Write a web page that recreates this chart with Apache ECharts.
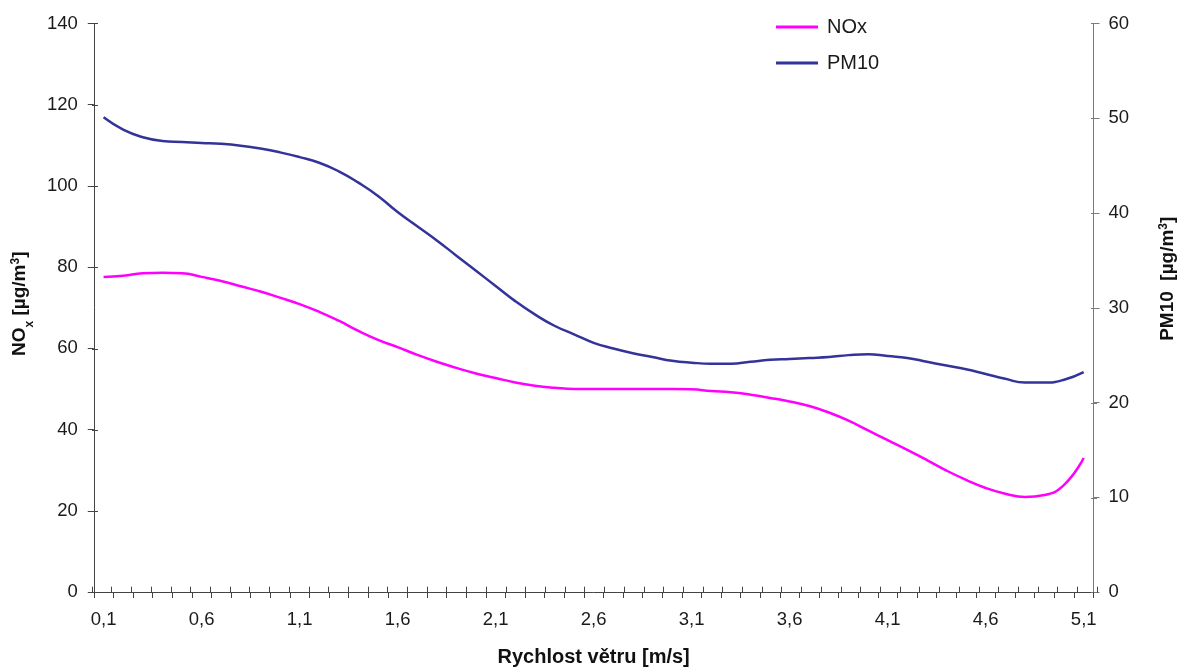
<!DOCTYPE html>
<html>
<head>
<meta charset="utf-8">
<script src="https://cdn.jsdelivr.net/npm/echarts@6/dist/echarts.min.js"></script>
<style>
  html, body { margin: 0; padding: 0; background: #fff; }
  #chart { width: 1185px; height: 672px; }
</style>
</head>
<body>
<div id="chart"></div>
<script>
// Wind speed classes [m/s]
const windSpeed = [
  '0,1','0,2','0,3','0,4','0,5','0,6','0,7','0,8','0,9','1,0',
  '1,1','1,2','1,3','1,4','1,5','1,6','1,7','1,8','1,9','2,0',
  '2,1','2,2','2,3','2,4','2,5','2,6','2,7','2,8','2,9','3,0',
  '3,1','3,2','3,3','3,4','3,5','3,6','3,7','3,8','3,9','4,0',
  '4,1','4,2','4,3','4,4','4,5','4,6','4,7','4,8','4,9','5,0',
  '5,1'
];

// NOx concentration [µg/m3] (left axis)
const noxValues = [
  77.6, 77.9, 78.5, 78.6, 78.5, 77.6, 76.6, 75.3, 74.0, 72.5,
  70.9, 69.0, 66.8, 64.3, 62.1, 60.3, 58.4, 56.7, 55.2, 53.8,
  52.7, 51.6, 50.8, 50.3, 50.0, 50.0, 50.0, 50.0, 50.0, 50.0,
  49.9, 49.5, 49.2, 48.6, 47.8, 46.9, 45.8, 44.2, 42.2, 39.8,
  37.4, 35.0, 32.5, 29.9, 27.6, 25.6, 24.2, 23.4, 23.9, 26.4,
  33.0
];

// PM10 concentration [µg/m3] (right axis)
const pm10Values = [
  50.1, 48.8, 48.0, 47.6, 47.5, 47.4, 47.3, 47.1, 46.8, 46.4,
  45.9, 45.3, 44.4, 43.2, 41.8, 40.1, 38.6, 37.1, 35.5, 33.9,
  32.3, 30.7, 29.3, 28.1, 27.2, 26.3, 25.7, 25.2, 24.8, 24.4,
  24.2, 24.1, 24.1, 24.3, 24.5, 24.6, 24.7, 24.8, 25.0, 25.1,
  24.9, 24.7, 24.3, 23.9, 23.5, 23.0, 22.5, 22.1, 22.1, 22.4,
  23.2
];

const leftTicks = { min: 0, max: 140, interval: 20 };
const rightTicks = { min: 0, max: 60, interval: 10 };

const FONT = '"Liberation Sans", Arial, sans-serif';
const AXIS_DARK = '#444';
const AXIS_GREY = '#7a7a7a';
const LABEL = { color: '#1a1a1a', fontFamily: FONT, fontSize: 18.5 };

const gridBox = { left: 92, right: 88, top: 23.5, bottom: 79.3, containLabel: false };

const chart = echarts.init(document.getElementById('chart'), null, { renderer: 'canvas' });

const titleRich = {
  b: { fontFamily: FONT, fontSize: 19, fontWeight: 'bold', color: '#111', lineHeight: 24, verticalAlign: 'middle' },
  sub: { fontFamily: FONT, fontSize: 12, fontWeight: 'bold', color: '#111', lineHeight: 24, verticalAlign: 'bottom', padding: [0, 0, -4, 0] },
  sup: { fontFamily: FONT, fontSize: 12, fontWeight: 'bold', color: '#111', lineHeight: 24, verticalAlign: 'top', padding: [2, 0, 0, 0] }
};

chart.setOption({
  animation: false,
  backgroundColor: '#fff',
  grid: [gridBox, Object.assign({}, gridBox)],
  legend: {
    orient: 'vertical',
    left: 771,
    top: 12,
    itemWidth: 42,
    itemHeight: 3,
    itemGap: 16,
    icon: 'rect',
    textStyle: { fontFamily: FONT, fontSize: 20, color: '#1a1a1a', lineHeight: 20, padding: [0, 0, 0, 4] },
    data: ['NOx', 'PM10']
  },
  xAxis: [
    {
      type: 'category',
      gridIndex: 0,
      data: windSpeed,
      boundaryGap: true,
      name: 'Rychlost větru [m/s]',
      nameLocation: 'middle',
      nameGap: 55,
      nameTextStyle: { fontFamily: FONT, fontSize: 20, fontWeight: 'bold', color: '#111' },
      axisLine: { show: true, lineStyle: { color: AXIS_DARK, width: 1 } },
      axisTick: { show: true, interval: 0, alignWithLabel: false, length: 6, inside: false, lineStyle: { color: AXIS_DARK } },
      axisLabel: Object.assign({ interval: 4, margin: 18 }, LABEL),
      splitLine: { show: false }
    },
    {
      // inner half of the crossing ticks
      type: 'category',
      gridIndex: 1,
      position: 'bottom',
      data: windSpeed,
      boundaryGap: true,
      axisLine: { show: false },
      axisTick: { show: true, interval: 0, length: 6, inside: true, lineStyle: { color: AXIS_DARK } },
      axisLabel: { show: false },
      splitLine: { show: false }
    }
  ],
  yAxis: [
    {
      type: 'value',
      gridIndex: 0,
      position: 'left',
      min: leftTicks.min, max: leftTicks.max, interval: leftTicks.interval,
      name: '{b|NO}{sub|x}{b| [µg/m}{sup|3}{b|]}',
      nameLocation: 'middle',
      nameRotate: 90,
      nameGap: 58,
      nameTextStyle: { rich: titleRich, padding: [0, 0, 0, 8] },
      axisLine: { show: true, lineStyle: { color: AXIS_DARK, width: 1 } },
      axisTick: { show: true, length: 6, lineStyle: { color: AXIS_DARK } },
      axisLabel: Object.assign({ margin: 16 }, LABEL),
      splitLine: { show: false }
    },
    {
      type: 'value',
      gridIndex: 0,
      position: 'right',
      min: rightTicks.min, max: rightTicks.max, interval: rightTicks.interval,
      name: '{b|PM10  [µg/m}{sup|3}{b|]}',
      nameLocation: 'middle',
      nameRotate: 90,
      nameGap: 62,
      nameTextStyle: { rich: titleRich, padding: [0, 0, 0, 58] },
      axisLine: { show: true, lineStyle: { color: AXIS_GREY, width: 1 } },
      axisTick: { show: true, length: 6, lineStyle: { color: AXIS_GREY } },
      axisLabel: Object.assign({ margin: 15 }, LABEL),
      splitLine: { show: false }
    },
    {
      type: 'value',
      gridIndex: 1,
      position: 'left',
      min: leftTicks.min, max: leftTicks.max, interval: leftTicks.interval,
      axisLine: { show: false },
      axisTick: { show: true, inside: true, length: 6, lineStyle: { color: AXIS_DARK } },
      axisLabel: { show: false },
      splitLine: { show: false }
    },
    {
      type: 'value',
      gridIndex: 1,
      position: 'right',
      min: rightTicks.min, max: rightTicks.max, interval: rightTicks.interval,
      axisLine: { show: false },
      axisTick: { show: true, inside: true, length: 6, lineStyle: { color: AXIS_GREY } },
      axisLabel: { show: false },
      splitLine: { show: false }
    }
  ],
  series: [
    {
      name: 'NOx',
      type: 'line',
      xAxisIndex: 0,
      yAxisIndex: 0,
      data: noxValues,
      smooth: 0.5,
      showSymbol: false,
      symbol: 'none',
      itemStyle: { color: '#ff00ff' },
      lineStyle: { color: '#ff00ff', width: 2.5 }
    },
    {
      name: 'PM10',
      type: 'line',
      xAxisIndex: 0,
      yAxisIndex: 1,
      data: pm10Values,
      smooth: 0.5,
      showSymbol: false,
      symbol: 'none',
      itemStyle: { color: '#333399' },
      lineStyle: { color: '#333399', width: 2.5 }
    }
  ]
});
</script>
</body>
</html>
